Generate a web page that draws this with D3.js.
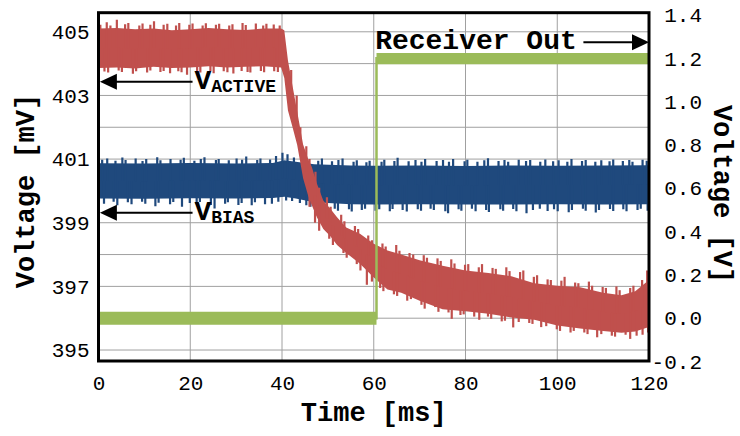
<!DOCTYPE html>
<html>
<head>
<meta charset="utf-8">
<script src="https://cdn.jsdelivr.net/npm/d3@7"></script>
<style>
  html, body { margin: 0; padding: 0; background: #fff; }
  svg text { font-family: "Liberation Mono", "Courier New", monospace; font-weight: bold; fill: #000; }
</style>
</head>
<body>
<div id="chart"></div>
<script>
// Axis ticks
const timeTicks = [0, 20, 40, 60, 80, 100, 120];
const mvTicks = [395, 397, 399, 401, 403, 405];
const mvGrid = [395, 396, 397, 398, 399, 400, 401, 402, 403, 404, 405];
const voltTicks = [-0.2, 0.0, 0.2, 0.4, 0.6, 0.8, 1.0, 1.2, 1.4];

// V_ACTIVE trace (mV): body of the noise band
const redT  = [0, 4, 8, 12, 16, 20, 24, 28, 32, 36, 39.8, 40.5, 41.3, 42.3, 43.3, 44.6, 45.7, 46.5, 47.6, 49, 50.5, 52, 54, 57, 60, 63, 66, 70, 75, 80, 85, 90, 95, 100, 105, 110, 114, 117, 120];
const redHi = [405.10, 405.12, 405.08, 405.10, 405.05, 405.08, 405.12, 405.08, 405.06, 405.10, 405.10, 405.05, 404.10, 403.30, 402.50, 401.46, 401.00, 400.75, 400.23, 399.70, 399.45, 399.17, 398.85, 398.65, 398.34, 398.13, 398.00, 397.82, 397.65, 397.50, 397.42, 397.32, 397.10, 397.02, 396.97, 396.80, 396.72, 396.85, 397.20];
const redLo = [403.86, 403.88, 403.85, 403.90, 403.86, 403.88, 403.92, 403.88, 403.90, 403.92, 403.88, 403.55, 402.53, 402.00, 401.45, 400.40, 399.85, 399.55, 399.17, 398.80, 398.58, 398.30, 398.05, 397.71, 397.28, 396.90, 396.80, 396.55, 396.28, 396.22, 396.14, 396.02, 395.95, 395.77, 395.68, 395.60, 395.54, 395.58, 395.72];
// noise peaks sticking out of the band [time, mV]
const redPeaksUp = [[0.4, 405.22], [1.8, 405.30], [2.6, 405.20], [4.0, 405.38], [5.8, 405.24], [6.5, 405.28], [8.9, 405.20], [9.6, 405.26], [11.3, 405.22], [12.1, 405.33], [14.2, 405.22], [15.0, 405.25], [16.9, 405.20], [17.6, 405.28], [19.8, 405.22], [20.5, 405.26], [22.7, 405.20], [23.4, 405.27], [25.6, 405.22], [26.3, 405.25], [28.5, 405.20], [29.2, 405.24], [31.4, 405.28], [32.1, 405.21], [34.3, 405.26], [35.9, 405.20], [36.6, 405.25], [38.2, 405.23], [39.5, 405.20],
  [42, 403.80], [43.2, 403.00], [44, 402.00], [45.3, 401.40], [46, 401.00], [47.3, 400.60], [48.1, 400.10], [49.8, 399.80], [50.6, 399.50], [52.9, 399.25], [53.6, 399.05], [55.9, 398.90], [56.6, 398.80], [58.8, 398.60], [59.6, 398.45], [61.9, 398.35], [62.6, 398.25], [64.9, 398.30], [65.6, 398.12], [67.8, 398.05], [68.6, 398.00], [70.9, 397.98], [71.6, 397.90], [73.9, 397.88], [74.6, 397.80], [76.9, 397.85], [77.6, 397.72], [79.9, 397.68], [80.6, 397.70], [82.9, 397.60], [83.6, 397.70], [85.9, 397.58], [86.6, 397.55], [88.9, 397.60], [89.6, 397.48], [91.9, 397.45], [92.6, 397.50], [94.9, 397.30], [95.6, 397.35], [97.9, 397.22], [98.6, 397.20], [100.9, 397.18], [101.6, 397.30], [103.9, 397.12], [104.6, 397.10], [106.9, 397.15], [107.6, 397.02], [109.9, 396.98], [110.6, 396.95], [112.9, 397.00], [113.6, 396.88], [115.9, 396.95], [116.6, 397.02], [118.5, 397.20], [119.6, 397.50]];
const redPeaksDown = [[1.3, 403.75], [2.1, 403.72], [4.4, 403.78], [5.1, 403.74], [7.5, 403.68], [8.2, 403.76], [10.6, 403.72], [11.3, 403.78], [13.5, 403.74], [14.2, 403.77], [15.6, 403.70], [17.4, 403.76], [18.1, 403.73], [19.3, 403.65], [21.5, 403.76], [22.2, 403.72], [24.4, 403.77], [25.1, 403.70], [27.3, 403.76], [28.1, 403.73], [29.4, 403.69], [31.2, 403.77], [32.5, 403.74], [33.1, 403.72], [35.4, 403.77], [36.1, 403.73], [38.3, 403.76], [39.1, 403.74],
  [46, 399.50], [47.2, 399.00], [48.1, 398.75], [50.3, 398.50], [51.1, 398.30], [53.4, 398.05], [54.1, 397.90], [56.3, 397.70], [57.1, 397.50], [58.5, 397.05], [59.6, 397.15], [61.4, 396.95], [62.1, 396.85], [64.4, 396.75], [65.1, 396.70], [67.3, 396.55], [68.1, 396.60], [70.4, 396.42], [71.1, 396.30], [73.4, 396.35], [74.1, 396.20], [76.3, 396.18], [77, 395.98], [78.9, 396.10], [79.6, 396.12], [81.9, 396.05], [83, 395.95], [84.9, 396.05], [85.6, 395.98], [87.9, 395.90], [88.6, 395.92], [90.4, 395.71], [91.6, 395.88], [93.9, 395.85], [94.6, 395.82], [96.5, 395.72], [97.6, 395.75], [99.9, 395.65], [100.6, 395.60], [102.9, 395.55], [103.6, 395.60], [105.9, 395.55], [106.6, 395.50], [108.7, 395.40], [109.6, 395.50], [111.9, 395.45], [112.6, 395.42], [114.9, 395.48], [115.9, 395.35], [117.3, 395.45], [118.6, 395.48], [119.8, 395.55]];

// V_BIAS trace (mV)
const blueT  = [0, 10, 20, 30, 38, 40.5, 43, 47, 55, 60, 70, 80, 90, 100, 110, 120];
const blueHi = [400.87, 400.86, 400.88, 400.86, 400.88, 400.96, 400.92, 400.84, 400.80, 400.79, 400.80, 400.78, 400.80, 400.79, 400.80, 400.81];
const blueLo = [399.76, 399.75, 399.77, 399.76, 399.78, 399.82, 399.76, 399.64, 399.58, 399.57, 399.58, 399.57, 399.57, 399.58, 399.57, 399.58];
const bluePeaksUp = [[0.8, 400.98], [1.9, 401.02], [3.7, 400.95], [5.2, 401.05], [5.9, 400.97], [8.1, 401.02], [9.6, 400.94], [10.4, 401.00], [12.8, 401.06], [13.5, 400.96], [15.7, 401.00], [17.9, 400.98], [18.6, 401.04], [20.9, 400.95], [22.3, 401.00], [23.1, 401.06], [25.6, 400.97], [26.2, 401.00], [28.4, 400.96], [30.1, 401.02], [31.3, 400.98], [32.2, 401.08], [34.6, 400.97], [35.3, 401.02], [37.4, 400.99], [38.7, 401.10], [40.1, 401.20], [41.2, 401.15], [42.6, 401.05], [44.8, 401.00], [45.4, 400.98], [47.9, 400.95], [48.7, 401.02], [50.9, 400.93], [52.3, 400.97], [53.2, 401.02], [55.6, 400.92], [56.3, 400.96], [58.4, 400.90], [59.1, 400.95], [61.7, 400.92], [62.3, 400.98], [64.5, 400.94], [65.2, 401.04], [67.6, 400.93], [69.1, 400.97], [70.4, 400.92], [71.2, 401.00], [73.7, 400.94], [75.1, 400.97], [76.4, 400.92], [77.3, 401.00], [79.8, 400.93], [80.4, 400.98], [82.6, 400.92], [84.1, 400.96], [84.9, 401.03], [87.2, 400.94], [88.5, 400.97], [89.3, 400.92], [91.6, 400.98], [93.2, 400.94], [94.1, 400.97], [96.3, 400.92], [97.4, 400.99], [99.1, 400.93], [100.3, 400.96], [102.2, 400.92], [103.1, 401.00], [105.4, 400.94], [106.2, 400.97], [108.3, 400.92], [109.6, 400.96], [111.4, 400.93], [112.2, 400.99], [114.3, 400.94], [115.7, 400.97], [116.4, 400.92], [118.6, 400.98], [119.5, 400.95]];
const bluePeaksDown = [[1.2, 399.60], [3.3, 399.66], [4.1, 399.55], [6.4, 399.64], [7.2, 399.58], [9.5, 399.66], [10.2, 399.60], [12.4, 399.52], [13.1, 399.63], [15.6, 399.58], [16.3, 399.65], [18.2, 399.50], [19.9, 399.62], [21.4, 399.58], [22.1, 399.65], [24.5, 399.56], [25.3, 399.45], [27.6, 399.60], [28.2, 399.64], [30.5, 399.56], [31.2, 399.62], [33.4, 399.55], [34.1, 399.64], [36.3, 399.58], [37.8, 399.60], [39.2, 399.66], [40.9, 399.70], [42.2, 399.68], [43.9, 399.62], [45.3, 399.55], [46.2, 399.50], [48.4, 399.45], [49.1, 399.40], [51.5, 399.44], [52.2, 399.38], [54.6, 399.42], [55.2, 399.35], [57.4, 399.40], [58.1, 399.44], [60.4, 399.38], [61.2, 399.42], [63.5, 399.36], [64.1, 399.43], [66.3, 399.40], [67.2, 399.35], [69.6, 399.42], [70.3, 399.38], [72.4, 399.44], [73.1, 399.40], [75.6, 399.36], [76.2, 399.30], [78.5, 399.42], [79.1, 399.38], [81.4, 399.44], [82.2, 399.36], [84.5, 399.40], [85.1, 399.34], [87.6, 399.42], [88.2, 399.38], [90.4, 399.43], [91.1, 399.36], [93.3, 399.30], [94.7, 399.40], [96.2, 399.44], [97.9, 399.37], [99.3, 399.42], [100.1, 399.36], [102.5, 399.33], [103.2, 399.40], [105.6, 399.44], [106.2, 399.38], [108.4, 399.32], [109.1, 399.40], [111.5, 399.43], [112.2, 399.37], [114.4, 399.42], [115.1, 399.36], [117.5, 399.40], [118.2, 399.44], [119.7, 399.38]];

// Receiver output (V)
const greenT  = [0, 60.6, 60.6, 120];
const greenV  = [0.0, 0.0, 1.2, 1.2];
const greenHi = [0.03, 0.03, 1.225, 1.225];
const greenLo = [-0.03, -0.03, 1.172, 1.172];

const width = 740, height = 436;
const margin = { top: 12.7, right: 91, bottom: 75, left: 98.5 };
const plotW = width - margin.left - margin.right;
const plotH = height - margin.top - margin.bottom;

const svg = d3.select("#chart").append("svg")
  .attr("width", width)
  .attr("height", height);

const g = svg.append("g").attr("transform", "translate(" + margin.left + "," + margin.top + ")");

const x = d3.scaleLinear().domain([0, 120]).range([0, plotW]);
const yL = d3.scaleLinear().domain([394.655, 405.6]).range([plotH, 0]);
const yR = d3.scaleLinear().domain([-0.1977, 1.4106]).range([plotH, 0]);

// grid
g.append("g").selectAll("line").data(mvGrid).join("line")
  .attr("x1", 0).attr("x2", plotW)
  .attr("y1", d => yL(d)).attr("y2", d => yL(d))
  .attr("stroke", "#a0a0a0").attr("stroke-width", 1);
g.append("g").selectAll("line").data(timeTicks).join("line")
  .attr("x1", d => x(d)).attr("x2", d => x(d))
  .attr("y1", 0).attr("y2", plotH)
  .attr("stroke", "#a0a0a0").attr("stroke-width", 1);

svg.append("defs").append("clipPath").attr("id", "plotClip")
  .append("rect").attr("width", plotW).attr("height", plotH);
const data = g.append("g").attr("clip-path", "url(#plotClip)");

function band(ts, lo, hi, yScale) {
  const rows = ts.map((t, i) => ({ t, lo: lo[i], hi: hi[i] }));
  return d3.area().x(d => x(d.t)).y0(d => yScale(d.lo)).y1(d => yScale(d.hi))(rows);
}

// draw noise peaks as thin needles from the middle of the band out to the peak
function peaks(list, ts, lo, hi, color) {
  const mid = d3.scaleLinear().domain(ts).range(ts.map((t, i) => (lo[i] + hi[i]) / 2));
  data.append("g").selectAll("line").data(list).join("line")
    .attr("x1", d => x(d[0])).attr("x2", d => x(d[0]))
    .attr("y1", d => yL(mid(d[0]))).attr("y2", d => yL(d[1]))
    .attr("stroke", color).attr("stroke-width", 2.2);
}

const blue = "#1f497d", red = "#c0504d", green = "#9bbb59";

data.append("path").attr("d", band(blueT, blueLo, blueHi, yL)).attr("fill", blue);
peaks(bluePeaksUp, blueT, blueLo, blueHi, blue);
peaks(bluePeaksDown, blueT, blueLo, blueHi, blue);

data.append("path").attr("d", band(redT, redLo, redHi, yL)).attr("fill", red);
peaks(redPeaksUp, redT, redLo, redHi, red);
peaks(redPeaksDown, redT, redLo, redHi, red);

data.append("path").attr("d", band(greenT, greenLo, greenHi, yR)).attr("fill", green);
data.append("path")
  .attr("d", d3.line().x(t => x(t)).y((t, i) => yR(greenV[i]))(greenT))
  .attr("fill", "none").attr("stroke", green).attr("stroke-width", 2.5);

// frame
g.append("rect").attr("width", plotW).attr("height", plotH)
  .attr("fill", "none").attr("stroke", "#000").attr("stroke-width", 3);

// axes
const axL = g.append("g").call(d3.axisLeft(yL).tickValues(mvTicks).tickSize(0).tickPadding(9).tickFormat(d3.format("d")));
const axR = g.append("g").attr("transform", "translate(" + plotW + ",0)")
  .call(d3.axisRight(yR).tickValues(voltTicks).tickSize(0).tickFormat(d => d.toFixed(1)));
const axB = g.append("g").attr("transform", "translate(0," + plotH + ")")
  .call(d3.axisBottom(x).tickValues(timeTicks).tickSize(0).tickPadding(14));
[axL, axR, axB].forEach(a => {
  a.select(".domain").remove();
  a.selectAll("text").style("font-size", "21px").style("font-family", null).style("font-weight", "normal");
});
axR.selectAll("text").attr("text-anchor", "end").attr("x", 53);

// titles
svg.append("text").attr("x", margin.left + plotW / 2).attr("y", 421)
  .attr("text-anchor", "middle").style("font-size", "27px").text("Time [ms]");
svg.append("text").attr("transform", "translate(34,191) rotate(-90)")
  .attr("text-anchor", "middle").style("font-size", "27px").text("Voltage [mV]");
svg.append("text").attr("transform", "translate(714,194) rotate(90)")
  .attr("text-anchor", "middle").style("font-size", "27px").text("Voltage [V]");

// annotations
function arrow(x1, x2, y) {
  const dir = x2 > x1 ? 1 : -1;
  g.append("line").attr("x1", x1).attr("x2", x2 - dir * 14).attr("y1", y).attr("y2", y)
    .attr("stroke", "#000").attr("stroke-width", 2);
  g.append("path")
    .attr("d", "M" + x2 + "," + y + "L" + (x2 - dir * 17) + "," + (y - 8) + "L" + (x2 - dir * 17) + "," + (y + 8) + "Z")
    .attr("fill", "#000");
}

arrow(x(20.5), x(0.3), yL(403.43));
const act = g.append("text").attr("x", x(20.9)).attr("y", yL(403.2)).style("font-size", "28px");
act.append("tspan").text("V");
act.append("tspan").attr("dy", 3).style("font-size", "18px").text("ACTIVE");

arrow(x(20.5), x(0.3), yL(399.31));
const bias = g.append("text").attr("x", x(20.9)).attr("y", yL(399.08)).style("font-size", "28px");
bias.append("tspan").text("V");
bias.append("tspan").attr("dy", 3).style("font-size", "18px").text("BIAS");

arrow(x(105.7), x(120), yR(1.274));
g.append("text").attr("x", x(60.3)).attr("y", yR(1.242)).style("font-size", "28px").text("Receiver Out");
</script>
</body>
</html>
